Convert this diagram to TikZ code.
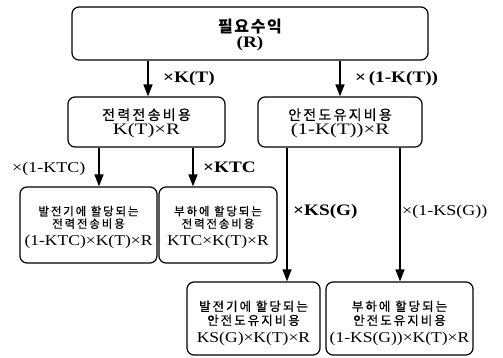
\documentclass[tikz,border=0pt]{standalone}
\usepackage{fontspec}
\setmainfont{Liberation Serif}
\newfontfamily\kr[LetterSpace=16,FakeBold=0.8]{Noto Sans CJK KR}
\newfontfamily\krb[LetterSpace=10]{Noto Sans CJK KR}
\newfontfamily\latA[FakeStretch=1.3]{Liberation Serif}
\newfontfamily\latB[FakeStretch=1.17]{Liberation Serif}
\newfontfamily\latL[FakeStretch=1.2]{Liberation Serif}
\usetikzlibrary{arrows.meta}
\newcommand\fs[1]{\fontsize{#1}{#1}\selectfont}
\begin{document}
\begin{tikzpicture}[x=1pt,y=-1pt,
  box/.style={draw, line width=1.2pt, rounded corners=7pt, inner sep=0pt},
  txt/.style={inner sep=0pt, anchor=base},
  arr/.style={line width=1.4pt, -{Triangle[length=12pt,width=9pt]}},
  lbl/.style={inner sep=0pt, anchor=base west}]
\useasboundingbox (0,0) rectangle (503,358);
% boxes
\node[box, minimum width=356pt, minimum height=53pt] (top) at (250,33.5) {};
\node[box, minimum width=157pt, minimum height=50pt] (b2) at (146.5,122) {};
\node[box, minimum width=164pt, minimum height=50pt] (b3) at (340,122) {};
\node[box, minimum width=137pt, minimum height=76pt] (b4) at (88.5,225) {};
\node[box, minimum width=118pt, minimum height=76pt] (b5) at (218,225) {};
\node[box, minimum width=133pt, minimum height=73pt] (b6) at (253.5,318.5) {};
\node[box, minimum width=147pt, minimum height=73pt] (b7) at (399.5,318.5) {};
% texts
\node[txt, font=\krb\bfseries\fs{16}] (t0a) at (250,33) {필요수익};
\node[txt, font=\latL\bfseries\fs{16}] (t0b) at (250,48) {(R)};
\node[txt, font=\kr\fs{14}] (t2a) at (146.5,120) {전력전송비용};
\node[txt, font=\latA\fs{16}] (t2b) at (146.5,134.5) {K(T)×R};
\node[txt, font=\kr\fs{14}] (t3a) at (340,120) {안전도유지비용};
\node[txt, font=\latA\fs{16}] (t3b) at (340,134.5) {(1-K(T))×R};
\node[txt, font=\kr\fs{11.5}] (t4a) at (88.5,215.5) {발전기에 할당되는};
\node[txt, font=\kr\fs{11.5}] (t4b) at (88.5,228) {전력전송비용};
\node[txt, font=\latB\fs{15}] (t4c) at (88.5,245) {(1-KTC)×K(T)×R};
\node[txt, font=\kr\fs{11.5}] (t5a) at (218,215.5) {부하에 할당되는};
\node[txt, font=\kr\fs{11.5}] (t5b) at (218,228) {전력전송비용};
\node[txt, font=\latB\fs{15}] (t5c) at (218,245) {KTC×K(T)×R};
\node[txt, font=\kr\fs{12.5}] (t6a) at (253.5,311) {발전기에 할당되는};
\node[txt, font=\kr\fs{12.5}] (t6b) at (253.5,325) {안전도유지비용};
\node[txt, font=\latB\fs{15}] (t6c) at (253.5,342) {KS(G)×K(T)×R};
\node[txt, font=\kr\fs{12.5}] (t7a) at (399.5,311) {부하에 할당되는};
\node[txt, font=\kr\fs{12.5}] (t7b) at (399.5,325) {안전도유지비용};
\node[txt, font=\latB\fs{15}] (t7c) at (399.5,342) {(1-KS(G))×K(T)×R};
% arrows
\draw[arr] (top.south -| 148,0) -- (b2.north -| 148,0);
\draw[arr] (top.south -| b3.north) -- (b3.north);
\draw[arr] (b2.south -| 99,0) -- (b4.north -| 99,0);
\draw[arr] (b2.south -| 193,0) -- (b5.north -| 193,0);
\draw[arr] (b3.south -| 287,0) -- (b6.north -| 287,0);
\draw[arr] (b3.south -| 400,0) -- (b7.north -| 400,0);
% labels
\node[lbl, font=\latL\bfseries\fs{16}] (l1) at (163,83) {×K(T)};
\node[lbl, font=\latL\bfseries\fs{16}] (l2) at (355,83) {×\,(1-K(T))};
\node[lbl, font=\latL\fs{15}] (l3) at (12,173) {×(1-KTC)};
\node[lbl, font=\latL\bfseries\fs{16}] (l4) at (203,173) {×KTC};
\node[lbl, font=\latL\bfseries\fs{16}] (l5) at (293,215) {×KS(G)};
\node[lbl, font=\latL\fs{15}] (l6) at (402,215) {×(1-KS(G))};
\end{tikzpicture}
\end{document}
